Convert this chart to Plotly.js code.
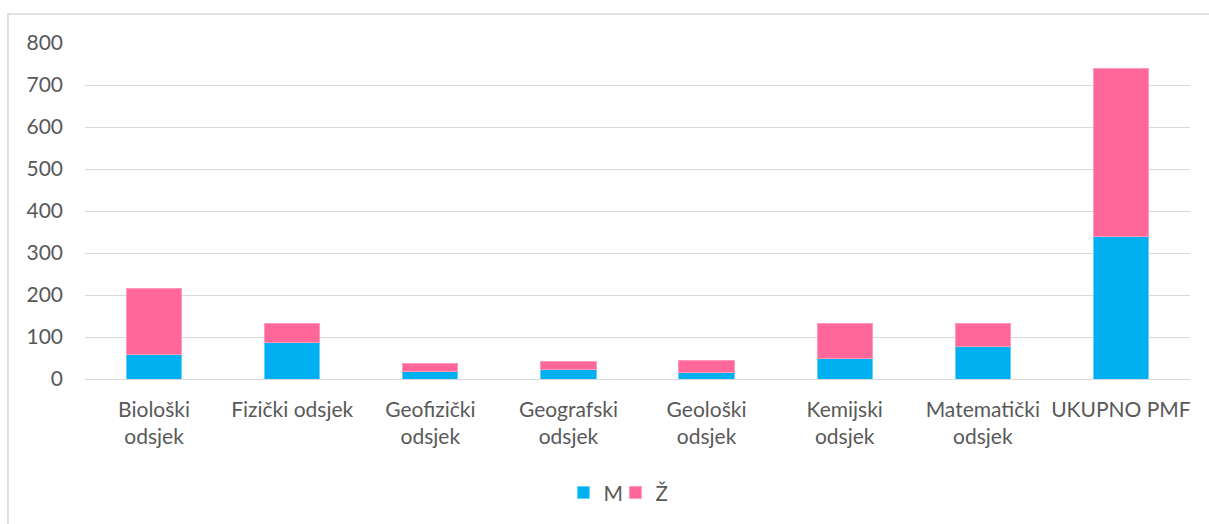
<!DOCTYPE html>
<html>
<head>
<meta charset="utf-8">
<script src="https://cdn.plot.ly/plotly-3.0.1.min.js"></script>
<style>html,body{margin:0;padding:0;background:#fff;}#chart{width:1209px;height:524px;}</style>
</head>
<body>
<div id="chart"></div>
<script>
const categories = ["Biološki<br>odsjek", "Fizički odsjek", "Geofizički<br>odsjek", "Geografski<br>odsjek", "Geološki<br>odsjek", "Kemijski<br>odsjek", "Matematički<br>odsjek", "UKUPNO PMF"];
const valuesM = [59, 87, 17, 23, 16, 50, 77, 339];
const valuesZ = [156, 44, 19, 19, 29, 83, 54, 400];
const seriesNames = ["M", "Ž"];

const traces = [
  {type: "bar", name: seriesNames[0], x: categories, y: valuesM,
   marker: {color: "#00b0f0", line: {color: "#66d0f6", width: 1}}, hoverinfo: "y"},
  {type: "bar", name: seriesNames[1], x: categories, y: valuesZ,
   marker: {color: "#ff6699", line: {color: "#ff99bb", width: 1}}, hoverinfo: "y"}
];

const layout = {
  width: 1209, height: 524,
  barmode: "stack",
  bargap: 0.6,
  margin: {l: 85, r: 19, t: 43, b: 144},
  paper_bgcolor: "#ffffff", plot_bgcolor: "#ffffff",
  font: {family: "Lato, 'Open Sans', sans-serif", size: 21, color: "#595959"},
  xaxis: {type: "category", showgrid: false, showline: false, ticks: "", tickangle: 0,
          ticklabelstandoff: 16, tickfont: {size: 21, color: "#595959"}},
  yaxis: {range: [0, 800], dtick: 100, showgrid: true, gridcolor: "#d9d9d9", gridwidth: 1,
          zeroline: true, zerolinecolor: "#d9d9d9", zerolinewidth: 1, showline: false,
          ticks: "", ticklabelstandoff: 21, tickfont: {size: 21, color: "#595959"}},
  showlegend: true,
  legend: {orientation: "h", x: 0.48, xanchor: "center", y: -0.335, yanchor: "middle",
           font: {size: 21, color: "#595959"}, itemwidth: 30, entrywidth: 7, traceorder: "normal"},
  shapes: [
    {type: "rect", xref: "paper", yref: "paper", x0: -0.0697, x1: 1.03, y0: -0.5, y1: 1.086,
     line: {color: "#d9d9d9", width: 1.5}, fillcolor: "rgba(0,0,0,0)", layer: "below"}
  ]
};

Plotly.newPlot("chart", traces, layout, {displayModeBar: false, staticPlot: true});
</script>
</body>
</html>
